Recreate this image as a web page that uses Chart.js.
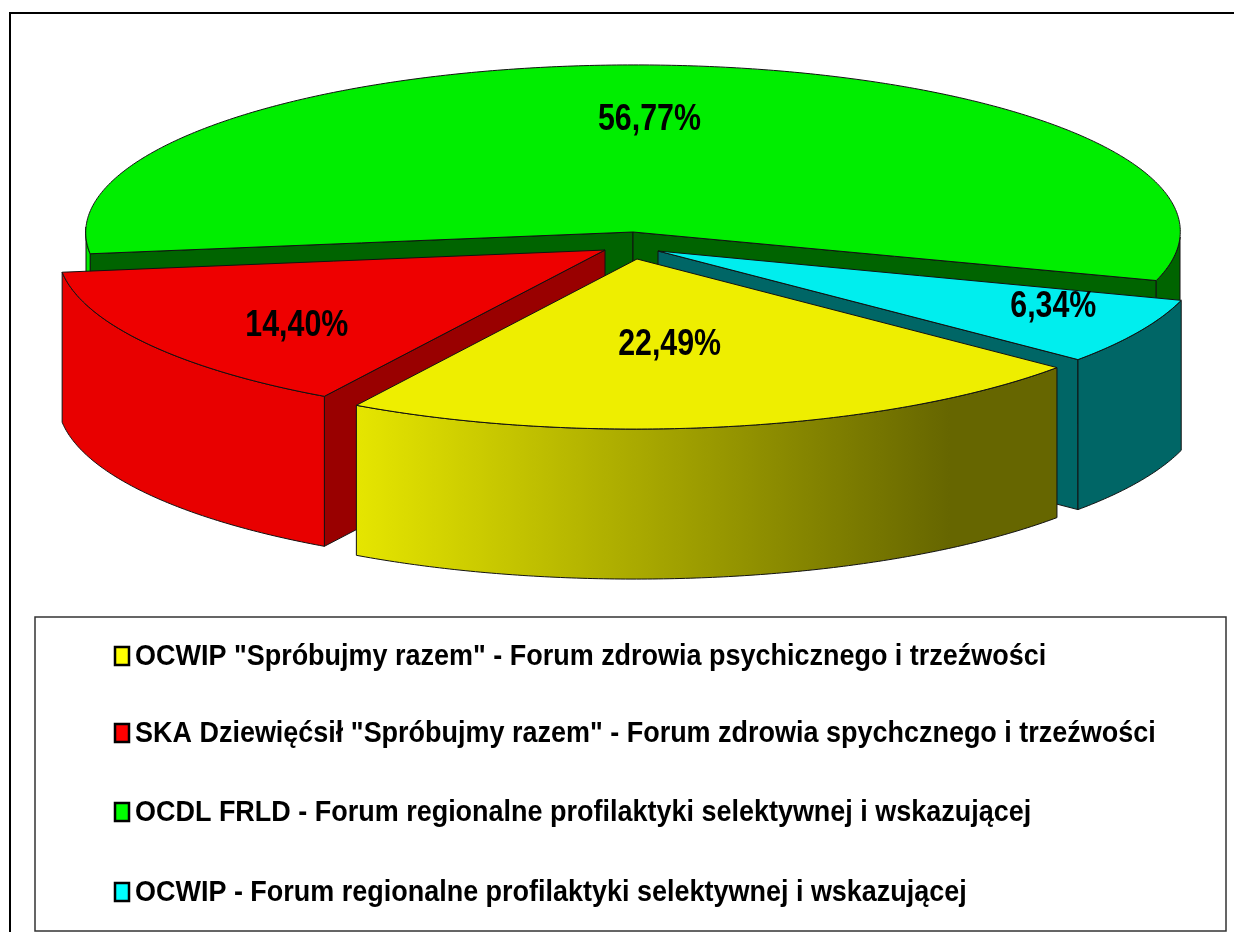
<!DOCTYPE html>
<html>
<head>
<meta charset="utf-8">
<script src="https://cdn.jsdelivr.net/npm/chart.js@4/dist/chart.umd.min.js"></script>
<style>
  html, body { margin: 0; padding: 0; background: #fff; overflow: hidden; }
  canvas { display: block; }
</style>
</head>
<body>
<canvas id="pie3d" width="1234" height="932"></canvas>
<script>
const categories = [
    'OCWIP "Spróbujmy razem" - Forum zdrowia psychicznego i trzeźwości',
    'SKA Dziewięćsił "Spróbujmy razem" - Forum zdrowia spychcznego i trzeźwości',
    'OCDL FRLD - Forum regionalne profilaktyki selektywnej i wskazującej',
    'OCWIP - Forum regionalne profilaktyki selektywnej i wskazującej'
];
const shares = [22.49, 14.40, 56.77, 6.34];
const legendColors = ['#ffff00', '#ff0000', '#00ff00', '#00ffff'];
const topColors = ['#eeee00', '#ee0000', '#00ee00', '#00eeee'];
const wallLight = ['#e6e600', '#e80000', '#00ee00', '#00eeee'];
const wallDark = ['#666600', '#990000', '#006400', '#006666'];
const faceColors = ['#666600', '#990000', '#006400', '#006666'];

// where each exploded slice sits, and how the flat circle is tilted
const center = { x: 633, y: 232 };
const shift = [[4, 27], [-28, 18], [0, 0], [25, 19]];
const tilt = { xc: 547, xs: -18, yc: 5 };
const tiltY = [170, 170, 167, 170];
const depth = 150;
const drawOrder = [2, 3, 1, 0];
const labelFrac = [0.5, 0.7, 0.68, 0.8];
const labelNudge = [[-22, 3], [5, 7], [-3, 1], [4, -5]];

function pt(i, a, r, dy) {
    const c = Math.cos(a) * r, s = Math.sin(a) * r;
    return [
        center.x + shift[i][0] + tilt.xc * c + tilt.xs * s,
        center.y + shift[i][1] + tilt.yc * c + tiltY[i] * s + (dy || 0)
    ];
}

function trace(ctx, pts) {
    ctx.beginPath();
    pts.forEach((p, n) => n ? ctx.lineTo(p[0], p[1]) : ctx.moveTo(p[0], p[1]));
    ctx.closePath();
}

function arcPoints(i, a0, a1, dy) {
    const out = [], steps = Math.max(2, Math.ceil(Math.abs(a1 - a0) / 0.01));
    for (let k = 0; k <= steps; k++) out.push(pt(i, a0 + (a1 - a0) * k / steps, 1, dy));
    return out;
}

function paint(ctx, pts, fill) {
    trace(ctx, pts);
    ctx.fillStyle = fill;
    ctx.fill();
    ctx.lineWidth = 1;
    ctx.strokeStyle = '#111';
    ctx.stroke();
}

function drawSlice(ctx, arc, i) {
    const a0 = arc.startAngle, a1 = arc.endAngle;

    // cut faces that look towards the viewer
    [[a0, Math.cos(a0) < 0], [a1, Math.cos(a1) > 0]].forEach(([a, seen]) => {
        if (!seen) return;
        const tip = pt(i, a, 0), rim = pt(i, a, 1);
        paint(ctx, [tip, rim, [rim[0], rim[1] + depth], [tip[0], tip[1] + depth]], faceColors[i]);
    });

    // outer wall, lower half of the rim only
    const grad = ctx.createLinearGradient(355, 0, 950, 0);
    grad.addColorStop(0, wallLight[i]);
    grad.addColorStop(1, wallDark[i]);
    for (let turn = -1; turn <= 1; turn++) {
        const lo = Math.max(a0, turn * 2 * Math.PI), hi = Math.min(a1, turn * 2 * Math.PI + Math.PI);
        if (hi <= lo) continue;
        paint(ctx, arcPoints(i, lo, hi, 0).concat(arcPoints(i, hi, lo, depth)), grad);
    }

    // top, drawn by the library's arc under the tilt
    const R = arc.outerRadius;
    ctx.save();
    ctx.transform(tilt.xc / R, tilt.yc / R, tilt.xs / R, tiltY[i] / R,
        center.x + shift[i][0], center.y + shift[i][1]);
    ctx.translate(-arc.x, -arc.y);
    arc.draw(ctx);
    ctx.restore();

    trace(ctx, [pt(i, a0, 0)].concat(arcPoints(i, a0, a1, 0)));
    ctx.lineWidth = 1;
    ctx.strokeStyle = '#111';
    ctx.stroke();
}

const pie3d = {
    id: 'pie3d',
    beforeDatasetDraw(chart) {
        const ctx = chart.ctx, arcs = chart.getDatasetMeta(0).data;
        drawOrder.forEach(i => drawSlice(ctx, arcs[i], i));
        return false;
    },
    afterDraw(chart) {
        const ctx = chart.ctx, arcs = chart.getDatasetMeta(0).data;
        ctx.save();

        // outer frame and legend frame
        ctx.strokeStyle = '#000';
        ctx.lineWidth = 2;
        ctx.beginPath();
        ctx.moveTo(10, 932);
        ctx.lineTo(10, 13);
        ctx.lineTo(1234, 13);
        ctx.stroke();
        ctx.strokeStyle = '#333';
        ctx.lineWidth = 1.5;
        ctx.strokeRect(35, 617, 1191, 314);

        // percentages
        ctx.fillStyle = '#000';
        ctx.textAlign = 'center';
        ctx.textBaseline = 'middle';
        ctx.font = 'bold 37px "Liberation Sans"';
        shares.forEach((v, i) => {
            const mid = (arcs[i].startAngle + arcs[i].endAngle) / 2;
            const x = center.x + shift[i][0] + tilt.xc * labelFrac[i] * Math.cos(mid) + labelNudge[i][0];
            const y = center.y + shift[i][1] + tiltY[i] * labelFrac[i] * Math.sin(mid) + labelNudge[i][1];
            ctx.save();
            ctx.translate(x, y);
            ctx.scale(0.82, 1);
            ctx.fillText(v.toFixed(2).replace('.', ',') + '%', 0, 0);
            ctx.restore();
        });

        // legend
        const rowY = [656, 733, 812, 892];
        ctx.textAlign = 'left';
        ctx.font = 'bold 29px "Liberation Sans"';
        categories.forEach((label, i) => {
            ctx.fillStyle = legendColors[i];
            ctx.strokeStyle = '#000';
            ctx.lineWidth = 2.5;
            ctx.fillRect(115, rowY[i] - 9, 14, 18);
            ctx.strokeRect(115, rowY[i] - 9, 14, 18);
            ctx.fillStyle = '#000';
            ctx.save();
            ctx.translate(135, rowY[i] + 1);
            ctx.scale(0.93, 1);
            ctx.fillText(label, 0, 0);
            ctx.restore();
        });
        ctx.restore();
    }
};

new Chart(document.getElementById('pie3d'), {
    type: 'pie',
    data: {
        labels: categories,
        datasets: [{
            data: shares,
            backgroundColor: topColors,
            borderWidth: 0
        }]
    },
    options: {
        responsive: false,
        animation: false,
        rotation: 128,
        plugins: {
            legend: { display: false },
            tooltip: { enabled: false }
        }
    },
    plugins: [pie3d]
});
</script>
</body>
</html>
